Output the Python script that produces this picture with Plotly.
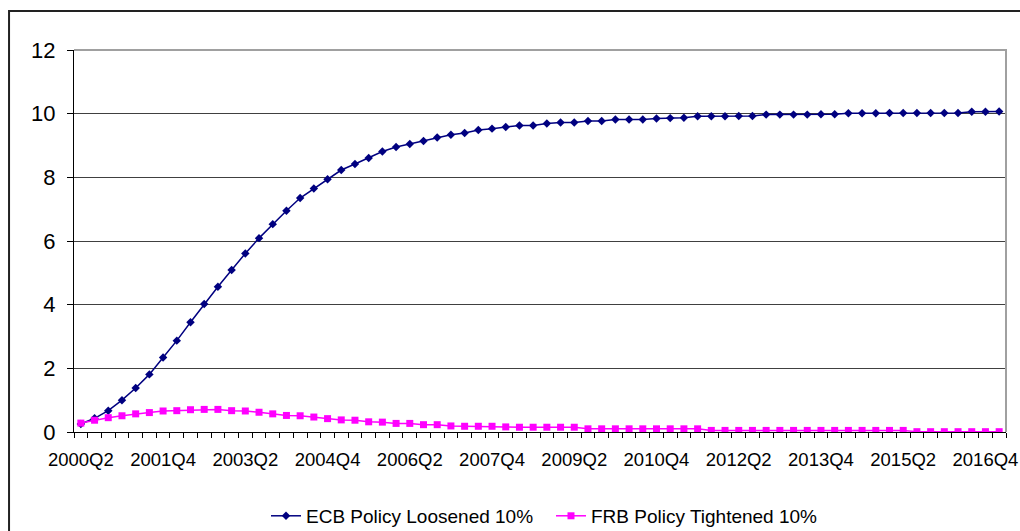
import plotly.graph_objects as go

# Quarterly periods, 2000Q2 .. 2017Q1
quarters = [f"{y}Q{q}" for y in range(2000, 2018) for q in range(1, 5)][1:69]

tick_labels = ["2000Q2", "2001Q4", "2003Q2", "2004Q4", "2006Q2", "2007Q4",
               "2009Q2", "2010Q4", "2012Q2", "2013Q4", "2015Q2", "2016Q4"]

ecb_loosened = [
    0.25, 0.43, 0.67, 1.00, 1.38, 1.81, 2.34, 2.87, 3.45, 4.02,
    4.56, 5.09, 5.61, 6.09, 6.53, 6.95, 7.35, 7.65, 7.94, 8.23,
    8.42, 8.61, 8.81, 8.95, 9.05, 9.14, 9.25, 9.34, 9.39, 9.49,
    9.53, 9.58, 9.63, 9.63, 9.69, 9.72, 9.72, 9.77, 9.77, 9.82,
    9.82, 9.82, 9.85, 9.86, 9.87, 9.92, 9.92, 9.92, 9.93, 9.93,
    9.97, 9.97, 9.97, 9.97, 9.98, 9.98, 10.01, 10.01, 10.01, 10.02,
    10.02, 10.02, 10.02, 10.02, 10.02, 10.06, 10.06, 10.07,
]

frb_tightened = [
    0.28, 0.37, 0.45, 0.51, 0.57, 0.61, 0.66, 0.67, 0.70, 0.71,
    0.71, 0.67, 0.66, 0.62, 0.57, 0.52, 0.51, 0.47, 0.42, 0.38,
    0.37, 0.32, 0.31, 0.27, 0.27, 0.23, 0.23, 0.19, 0.18, 0.18,
    0.18, 0.16, 0.15, 0.15, 0.15, 0.15, 0.15, 0.10, 0.10, 0.10,
    0.10, 0.10, 0.10, 0.10, 0.10, 0.10, 0.05, 0.05, 0.05, 0.05,
    0.05, 0.05, 0.05, 0.05, 0.05, 0.05, 0.05, 0.05, 0.05, 0.05,
    0.05, 0.01, 0.01, 0.01, 0.01, 0.01, 0.01, 0.01,
]

y_ticks = [0, 2, 4, 6, 8, 10, 12]

FONT = "Liberation Sans, Arial, sans-serif"
x_pos = list(range(len(quarters)))
tick_pos = [quarters.index(t) for t in tick_labels]
boundaries = [i - 0.5 for i in range(len(quarters) + 1)]

fig = go.Figure()
fig.add_trace(go.Scatter(
    x=x_pos, y=ecb_loosened, mode="lines+markers",
    name="ECB Policy Loosened 10%", text=quarters,
    line=dict(color="#000080", width=1.5),
    marker=dict(symbol="diamond", size=6.5, color="#000080"),
))
fig.add_trace(go.Scatter(
    x=x_pos, y=frb_tightened, mode="lines+markers",
    name="FRB Policy Tightened 10%", text=quarters,
    line=dict(color="#FF00FF", width=1.5),
    marker=dict(symbol="square", size=7, color="#FF00FF"),
))

# plot-area frame (top and right edges) and the outer chart border
fig.add_shape(type="path", xref="paper", yref="paper",
              path="M 0,1 L 1,1 L 1,0", line=dict(color="#a0a0a0", width=2))
fig.add_shape(type="rect", xref="paper", yref="paper",
              x0=-0.0697, x1=1.05, y0=-0.35, y1=1.102,
              line=dict(color="#222222", width=2), layer="below")

fig.update_layout(
    width=1020, height=531,
    margin=dict(l=74, r=14, t=50, b=99, autoexpand=False),
    paper_bgcolor="white", plot_bgcolor="white",
    font=dict(family=FONT, color="black"),
    showlegend=True,
    legend=dict(orientation="h", x=0.206, xanchor="left", y=-0.17,
                yanchor="top", font=dict(size=19, family=FONT),
                bgcolor="rgba(0,0,0,0)", itemwidth=30,
                entrywidth=240, entrywidthmode="pixels"),
    xaxis=dict(
        range=[-0.5, len(quarters) - 0.5], automargin=False,
        tickmode="array", tickvals=tick_pos, ticktext=tick_labels,
        ticks="outside", ticklen=5, tickcolor="rgba(0,0,0,0)",
        tickfont=dict(size=18.5, family=FONT), ticklabelstandoff=6,
        showgrid=False, zeroline=False,
        showline=True, linecolor="black", linewidth=1,
        minor=dict(tickmode="array", tickvals=boundaries, ticks="outside",
                   ticklen=5, tickcolor="black", tickwidth=1, showgrid=False),
    ),
    yaxis=dict(
        range=[0, 12], tickmode="array", tickvals=y_ticks, automargin=False,
        ticks="outside", ticklen=6, tickcolor="black",
        tickfont=dict(size=22, family=FONT), ticklabelstandoff=7,
        showgrid=True, gridcolor="#404040", gridwidth=1,
        zeroline=False, showline=True, linecolor="black", linewidth=1,
    ),
)

fig.write_html("out.html")
